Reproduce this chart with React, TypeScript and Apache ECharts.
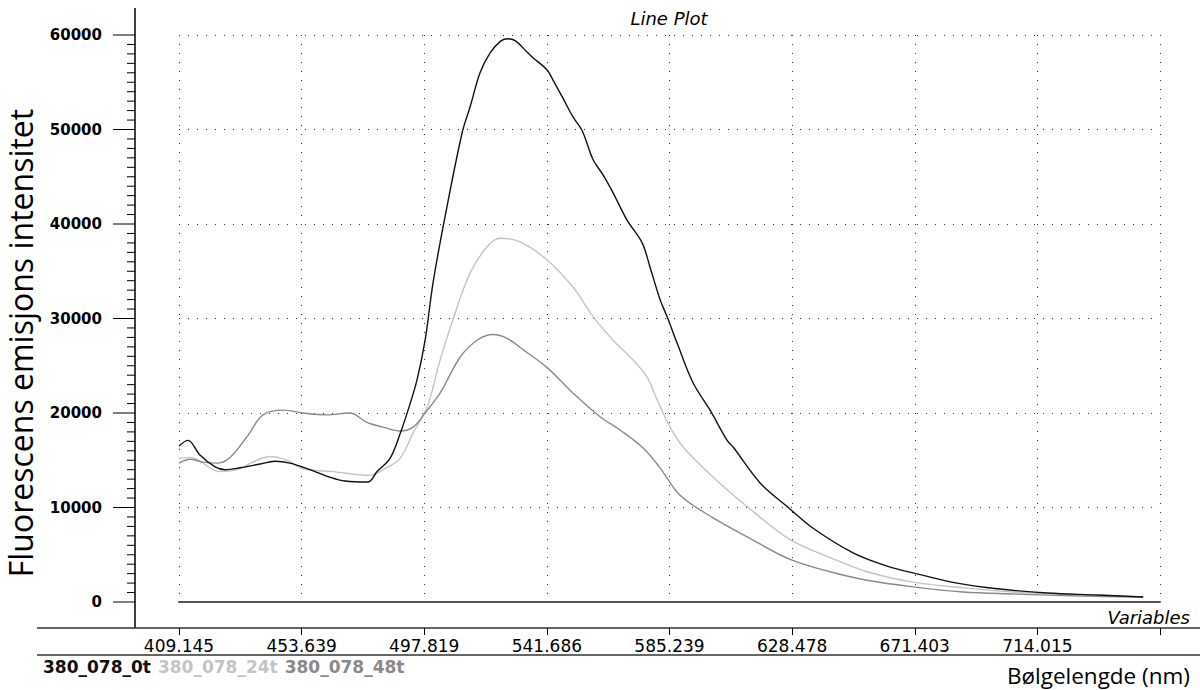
import React, { useEffect, useRef } from "react";
import * as echarts from "echarts";

// x positions are expressed in "variable tick" units: 0 = first labelled tick, 8 = last tick
const xTickLabels = ["409.145", "453.639", "497.819", "541.686", "585.239", "628.478", "671.403", "714.015", ""];
const yTicks = [0, 10000, 20000, 30000, 40000, 50000, 60000];
const yMinorPerMajor = 10;

const seriesNames = ["380_078_0t", "380_078_24t", "380_078_48t"];
const seriesColors = ["#111111", "#c4c4c4", "#8a8a8a"];

const x0t = [0, 0.073, 0.171, 0.294, 0.375, 0.498, 0.661, 0.783, 0.905, 1.069, 1.232, 1.354, 1.542, 1.615, 1.721, 1.803, 1.868, 1.941, 2.007, 2.072, 2.17, 2.308, 2.374, 2.455, 2.537, 2.618, 2.675, 2.741, 2.838, 2.887, 3.002, 3.051, 3.132, 3.214, 3.287, 3.377, 3.458, 3.54, 3.654, 3.777, 3.842, 3.923, 3.98, 4.062, 4.192, 4.331, 4.47, 4.519, 4.739, 4.959, 5.171, 5.497, 5.775, 6.044, 6.346, 6.672, 7.08, 7.488, 7.863];
const y0t = [16500, 17100, 15550, 14300, 14000, 14200, 14600, 14900, 14700, 14000, 13200, 12800, 12700, 13800, 15200, 17800, 20300, 23500, 27700, 33800, 40800, 49600, 52400, 56000, 58100, 59300, 59600, 59400, 58200, 57600, 56300, 55200, 53300, 51300, 49900, 46800, 45200, 43300, 40400, 38000, 35400, 32000, 30200, 27400, 23200, 20300, 17100, 16400, 12600, 10100, 7800, 5200, 3800, 2900, 2000, 1400, 950, 740, 530];

const x24t = [0, 0.09, 0.334, 0.473, 0.604, 0.742, 0.881, 1.011, 1.256, 1.558, 1.664, 1.803, 1.909, 2.023, 2.129, 2.268, 2.374, 2.512, 2.618, 2.781, 3.002, 3.214, 3.377, 3.54, 3.703, 3.817, 3.899, 4.005, 4.111, 4.356, 4.633, 4.984, 5.31, 5.612, 5.987, 6.395, 6.803, 7.349, 7.863];
const y24t = [15200, 15300, 13800, 14000, 14800, 15400, 15000, 14100, 13800, 13400, 14000, 15200, 17900, 20600, 25600, 31200, 34800, 37600, 38500, 38100, 36200, 33300, 30200, 27700, 25600, 23800, 21400, 18500, 16400, 13200, 10100, 6600, 4700, 3200, 2100, 1500, 1060, 740, 530];

const x48t = [0, 0.09, 0.196, 0.31, 0.416, 0.555, 0.685, 0.848, 1.011, 1.207, 1.395, 1.533, 1.664, 1.803, 1.909, 2.007, 2.129, 2.292, 2.431, 2.561, 2.675, 2.806, 3.002, 3.214, 3.434, 3.597, 3.785, 3.923, 4.086, 4.356, 4.633, 4.984, 5.31, 5.612, 5.987, 6.395, 6.803, 7.349, 7.863];
const y48t = [14700, 15100, 14800, 14700, 15300, 17500, 19800, 20300, 20000, 19800, 20000, 19000, 18500, 18100, 18500, 20000, 22100, 25900, 27700, 28300, 27900, 26700, 24800, 22100, 19600, 18200, 16300, 14200, 11300, 8900, 6900, 4500, 3200, 2300, 1600, 1060, 850, 630, 530];

const zip = (xs: number[], ys: number[]) => xs.map((x, i) => [x, ys[i]]);

const CHART_H = 690;
const GRID_TOP = 35;
const GRID_BOTTOM = 88;

export default function App() {
  const ref = useRef<HTMLDivElement>(null);

  useEffect(() => {
    document.body.style.margin = "0";
    if (!ref.current) return;
    const chart = echarts.init(ref.current, null, { renderer: "svg" });
    const dotted = { color: "#333", width: 1, type: [1, 8] as number[] };
    const seriesData = [zip(x0t, y0t), zip(x24t, y24t), zip(x48t, y48t)];
    const yMin = yTicks[0];
    const yMax = yTicks[yTicks.length - 1];

    const baseGraphic: any[] = [
      { type: "line", shape: { x1: 135, y1: 8, x2: 135, y2: 628 }, style: { stroke: "#000", lineWidth: 1.5 } },
      { type: "line", shape: { x1: 37, y1: 628, x2: 1200, y2: 628 }, style: { stroke: "#333", lineWidth: 1.5 } },
      { type: "line", shape: { x1: 37, y1: 655, x2: 1200, y2: 655 }, style: { stroke: "#333", lineWidth: 1.5 } },
      {
        type: "text",
        style: { text: "Line Plot", x: 669, y: 18, textAlign: "center", textVerticalAlign: "middle", font: "italic 18px 'DejaVu Sans'", fill: "#000" },
      },
      {
        type: "text",
        style: { text: "Variables", x: 1190, y: 617, textAlign: "right", textVerticalAlign: "middle", font: "italic 18px 'DejaVu Sans'", fill: "#000" },
      },
      {
        type: "text",
        x: 20,
        y: 343,
        rotation: Math.PI / 2,
        style: { text: "Fluorescens emisjons intensitet", x: 0, y: 0, textAlign: "center", textVerticalAlign: "middle", font: "32px 'Open Sans'", fill: "#000" },
      },
      {
        type: "text",
        style: { text: "Bølgelengde (nm)", x: 1190, y: 675, textAlign: "right", textVerticalAlign: "middle", font: "22.5px 'Open Sans'", fill: "#000" },
      },
    ];

    chart.setOption({
      animation: false,
      backgroundColor: "#ffffff",
      grid: { left: 179, right: 40, top: GRID_TOP, bottom: GRID_BOTTOM, containLabel: false },
      legend: {
        left: 33,
        top: 653,
        icon: "none",
        itemWidth: 0,
        itemGap: 2,
        selectedMode: false,
        textStyle: { fontFamily: "DejaVu Sans", fontWeight: "bold", fontSize: 17 },
        data: seriesNames.map((n, i) => ({ name: n, textStyle: { color: seriesColors[i] } })),
      },
      xAxis: [
        {
          type: "value",
          min: 0,
          max: 8,
          interval: 1,
          position: "bottom",
          axisLine: { show: true, onZero: false, lineStyle: { color: "#555", width: 2 } },
          axisTick: { show: false },
          axisLabel: { show: false },
          splitLine: { show: true, lineStyle: dotted },
        },
        {
          type: "value",
          min: 0,
          max: 8,
          interval: 1,
          position: "bottom",
          offset: 26,
          axisLine: { show: false, onZero: false },
          axisTick: { show: true, length: 7, lineStyle: { color: "#000", width: 1 } },
          axisLabel: {
            show: true,
            margin: 9,
            showMinLabel: true,
            showMaxLabel: true,
            color: "#000",
            fontFamily: "DejaVu Sans",
            fontSize: 17,
            formatter: (v: number) => xTickLabels[Math.round(v)] ?? "",
          },
          splitLine: { show: false },
        },
      ],
      yAxis: {
        type: "value",
        min: yMin,
        max: yMax,
        interval: yTicks[1] - yTicks[0],
        position: "left",
        offset: 44,
        axisLine: { show: false, onZero: false },
        axisTick: { show: false },
        axisLabel: {
          margin: 33,
          color: "#000",
          fontFamily: "DejaVu Sans",
          fontWeight: "bold",
          fontSize: 15,
          formatter: (v: number) => String(v),
        },
        splitLine: { show: true, lineStyle: dotted },
      },
      series: seriesNames.map((n, i) => ({
        name: n,
        type: "line",
        xAxisIndex: 0,
        data: seriesData[i],
        showSymbol: false,
        smooth: 0.35,
        z: i === 0 ? 5 : 3,
        lineStyle: { color: seriesColors[i], width: 1.4 },
        itemStyle: { color: seriesColors[i] },
      })),
      graphic: baseGraphic,
    });

    // y-axis tick marks: pixel rows taken from the chart's own y scale (grid-geometry fallback)
    const toPx = (v: number): number => {
      let p = NaN;
      try {
        const r: any = chart.convertToPixel({ seriesIndex: 0 } as any, [0, v]);
        p = Array.isArray(r) ? Number(r[1]) : Number(r);
      } catch (e) {
        p = NaN;
      }
      if (!Number.isFinite(p)) {
        const h = CHART_H - GRID_TOP - GRID_BOTTOM;
        p = CHART_H - GRID_BOTTOM - ((v - yMin) / (yMax - yMin)) * h;
      }
      return p;
    };

    const tickGraphic: any[] = [];
    const step = (yTicks[1] - yTicks[0]) / yMinorPerMajor;
    yTicks.forEach((v, idx) => {
      const py = toPx(v);
      tickGraphic.push({ type: "line", z: 10, shape: { x1: 113, y1: py, x2: 135, y2: py }, style: { stroke: "#000", lineWidth: 1 } });
      if (idx < yTicks.length - 1) {
        for (let k = 1; k < yMinorPerMajor; k++) {
          const pm = toPx(v + k * step);
          tickGraphic.push({ type: "line", z: 10, shape: { x1: 127, y1: pm, x2: 135, y2: pm }, style: { stroke: "#000", lineWidth: 1 } });
        }
      }
    });
    try {
      chart.setOption({ graphic: [...baseGraphic, ...tickGraphic] });
    } catch (e) {
      // keep the chart as drawn
    }

    return () => chart.dispose();
  }, []);

  return <div ref={ref} style={{ width: 1200, height: 690 }} />;
}
